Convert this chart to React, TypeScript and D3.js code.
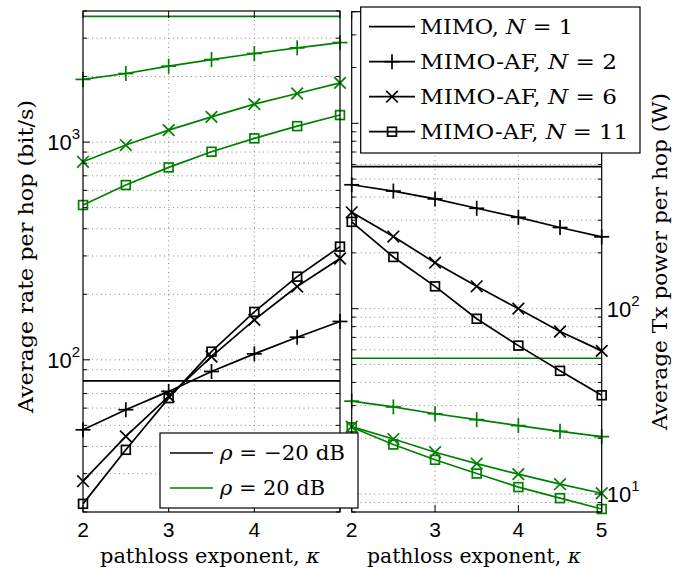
import React from "react";
import * as d3 from "d3";

const kappa = [2, 2.5, 3, 3.5, 4, 4.5, 5];

// Left panel: average rate per hop (bit/s)
const rateLowN1 = 80;
const rateLowN2 = [47.7, 59, 71.6, 88.4, 106.5, 127, 150];
const rateLowN6 = [27.7, 44.5, 67.9, 103.5, 152.6, 217, 292];
const rateLowN11 = [21.8, 38.6, 66.7, 109, 166, 241, 331];
const rateHighN1 = 3780;
const rateHighN2 = [1940, 2065, 2232, 2393, 2552, 2709, 2865];
const rateHighN6 = [812, 969, 1135, 1306, 1494, 1672, 1871];
const rateHighN11 = [514, 635, 765, 903, 1040, 1184, 1331];

// Right panel: average Tx power per hop (W)
const powLowN1 = 584;
const powLowN2 = [466, 431, 391, 348, 311, 274, 244];
const powLowN6 = [331, 245, 177, 132, 100, 75.3, 59.2];
const powLowN11 = [294, 190, 132, 88.2, 63.2, 46.2, 34.1];
const powHighN1 = 54;
const powHighN2 = [31.7, 29.5, 27.1, 25.2, 23.4, 21.8, 20.4];
const powHighN6 = [23.1, 19.8, 16.8, 14.6, 12.8, 11.3, 10.1];
const powHighN11 = [22.9, 18.5, 15.3, 12.9, 10.9, 9.5, 8.3];

const xTicksLeft = [2, 3, 4];
const xTicksRight = [2, 3, 4, 5];
const legendRho = ["−20 dB", "20 dB"];
const legendN = ["1", "2", "6", "11"];

const BLACK = "#000000";
const GREEN = "#008000";
const SANS = "Liberation Sans";
const SERIF = "DejaVu Serif";

type Marker = "none" | "plus" | "x" | "square";

function logTicks(d0: number, d1: number) {
  const out: { v: number; major: boolean }[] = [];
  for (let e = Math.floor(Math.log10(d0)); e <= Math.ceil(Math.log10(d1)); e++) {
    for (let k = 1; k <= 9; k++) {
      const v = k * Math.pow(10, e);
      if (v >= d0 * 0.9999 && v <= d1 * 1.0001) out.push({ v, major: k === 1 });
    }
  }
  return out;
}

function MarkerShape({ kind, x, y, color }: { kind: Marker; x: number; y: number; color: string }) {
  const sw = 1.7;
  if (kind === "plus") {
    const s = 7.5;
    return (
      <g stroke={color} strokeWidth={sw}>
        <line x1={x - s} y1={y} x2={x + s} y2={y} />
        <line x1={x} y1={y - s} x2={x} y2={y + s} />
      </g>
    );
  }
  if (kind === "x") {
    const s = 5.8;
    return (
      <g stroke={color} strokeWidth={sw}>
        <line x1={x - s} y1={y - s} x2={x + s} y2={y + s} />
        <line x1={x - s} y1={y + s} x2={x + s} y2={y - s} />
      </g>
    );
  }
  if (kind === "square") {
    const s = 4.4;
    return <rect x={x - s} y={y - s} width={2 * s} height={2 * s} fill="none" stroke={color} strokeWidth={sw} />;
  }
  return null;
}

function Panel({
  x,
  y,
  series,
  consts,
  xTicks,
  yAxisRight,
  labelMinY,
}: {
  x: d3.ScaleLinear<number, number>;
  y: d3.ScaleLogarithmic<number, number>;
  series: { values: number[]; color: string; marker: Marker }[];
  consts: { value: number; color: string }[];
  xTicks: number[];
  yAxisRight: boolean;
  labelMinY: number;
}) {
  const [x0, x1] = x.range();
  const [yb, yt] = y.range();
  const [d0, d1] = y.domain();
  const allTicks = logTicks(d0, d1);
  const line = d3
    .line<[number, number]>()
    .x((d) => x(d[0]))
    .y((d) => y(d[1]));
  const majors = allTicks.filter((t) => t.major && y(t.v) > labelMinY);
  return (
    <g>
      <rect x={x0} y={yt} width={x1 - x0} height={yb - yt} fill="white" />
      <g stroke="#666" strokeWidth={0.8} strokeDasharray="1 3.5">
        {allTicks
          .filter((t) => Math.abs(y(t.v) - yt) > 1 && Math.abs(y(t.v) - yb) > 1)
          .map((t) => (
            <line key={"gy" + t.v} x1={x0} x2={x1} y1={y(t.v)} y2={y(t.v)} />
          ))}
        {[3, 4].map((t) => (
          <line key={"gx" + t} x1={x(t)} x2={x(t)} y1={yt} y2={yb} />
        ))}
      </g>
      {consts.map((c, i) => (
        <line key={"c" + i} x1={x0} x2={x1} y1={y(c.value)} y2={y(c.value)} stroke={c.color} strokeWidth={1.7} />
      ))}
      {series.map((s, i) => (
        <g key={"s" + i}>
          <path
            d={line(kappa.map((k, j) => [k, s.values[j]] as [number, number])) || ""}
            fill="none"
            stroke={s.color}
            strokeWidth={1.7}
          />
          {kappa.map((k, j) => (
            <MarkerShape key={j} kind={s.marker} x={x(k)} y={y(s.values[j])} color={s.color} />
          ))}
        </g>
      ))}
      <rect x={x0} y={yt} width={x1 - x0} height={yb - yt} fill="none" stroke="black" strokeWidth={1.2} />
      <g stroke="black" strokeWidth={1}>
        {allTicks.map((t) => {
          const len = t.major ? 7 : 4;
          return (
            <g key={"yt" + t.v}>
              <line x1={x0} x2={x0 + len} y1={y(t.v)} y2={y(t.v)} />
              <line x1={x1} x2={x1 - len} y1={y(t.v)} y2={y(t.v)} />
            </g>
          );
        })}
        {[2, 3, 4, 5].map((t) => (
          <g key={"xt" + t}>
            <line x1={x(t)} x2={x(t)} y1={yb} y2={yb - 7} />
            <line x1={x(t)} x2={x(t)} y1={yt} y2={yt + 7} />
          </g>
        ))}
      </g>
      {xTicks.map((t) => (
        <text key={"xl" + t} x={x(t)} y={537} textAnchor="middle" fontFamily={SANS} fontSize={21}>
          {t}
        </text>
      ))}
      {majors.map((t) => {
        const e = Math.round(Math.log10(t.v));
        const yy = y(t.v) + 8;
        return (
          <text
            key={"yl" + t.v}
            x={yAxisRight ? x1 + 5 : x0 - 3}
            y={yy}
            textAnchor={yAxisRight ? "start" : "end"}
            fontFamily={SANS}
            fontSize={22}
          >
            10
            <tspan dy={-11} fontSize={15}>
              {e}
            </tspan>
          </text>
        );
      })}
    </g>
  );
}

export default function App() {
  const xL = d3.scaleLinear().domain([2, 5]).range([83, 340]);
  const yL = d3.scaleLog().domain([20, 4000]).range([512, 11]);
  const xR = d3.scaleLinear().domain([2, 5]).range([351.7, 601.7]);
  const yR = d3.scaleLog().domain([8, 4000]).range([512, 11.7]);

  const leftSeries = [
    { values: rateLowN2, color: BLACK, marker: "plus" as Marker },
    { values: rateLowN6, color: BLACK, marker: "x" as Marker },
    { values: rateLowN11, color: BLACK, marker: "square" as Marker },
    { values: rateHighN2, color: GREEN, marker: "plus" as Marker },
    { values: rateHighN6, color: GREEN, marker: "x" as Marker },
    { values: rateHighN11, color: GREEN, marker: "square" as Marker },
  ];
  const rightSeries = [
    { values: powLowN2, color: BLACK, marker: "plus" as Marker },
    { values: powLowN6, color: BLACK, marker: "x" as Marker },
    { values: powLowN11, color: BLACK, marker: "square" as Marker },
    { values: powHighN2, color: GREEN, marker: "plus" as Marker },
    { values: powHighN6, color: GREEN, marker: "x" as Marker },
    { values: powHighN11, color: GREEN, marker: "square" as Marker },
  ];
  const markersN: Marker[] = ["none", "plus", "x", "square"];
  const nWidths = [153, 197, 197, 208];
  const rhoWidths = [125, 105];

  return (
    <svg width={689} height={570} style={{ position: "absolute", left: 0, top: 0 }}>
      <rect width={689} height={570} fill="white" />
      <Panel
        x={xL}
        y={yL}
        series={leftSeries}
        consts={[
          { value: rateLowN1, color: BLACK },
          { value: rateHighN1, color: GREEN },
        ]}
        xTicks={xTicksLeft}
        yAxisRight={false}
        labelMinY={0}
      />
      <Panel
        x={xR}
        y={yR}
        series={rightSeries}
        consts={[
          { value: powLowN1, color: BLACK },
          { value: powHighN1, color: GREEN },
        ]}
        xTicks={xTicksRight}
        yAxisRight={true}
        labelMinY={165}
      />
      <text x={210} y={563} textAnchor="middle" fontFamily={SERIF} fontSize={20} textLength={220} lengthAdjust="spacingAndGlyphs">
        pathloss exponent, <tspan fontStyle="italic">κ</tspan>
      </text>
      <text x={474} y={563} textAnchor="middle" fontFamily={SERIF} fontSize={20} textLength={214} lengthAdjust="spacingAndGlyphs">
        pathloss exponent, <tspan fontStyle="italic">κ</tspan>
      </text>
      <text
        transform="translate(33,256.5) rotate(-90)"
        textAnchor="middle"
        fontFamily={SERIF}
        fontSize={21}
        textLength={313}
        lengthAdjust="spacingAndGlyphs"
      >
        Average rate per hop (bit/s)
      </text>
      <text
        transform="translate(667,261.5) rotate(-90)"
        textAnchor="middle"
        fontFamily={SERIF}
        fontSize={21}
        textLength={337}
        lengthAdjust="spacingAndGlyphs"
      >
        Average Tx power per hop (W)
      </text>
      <g>
        <rect x={160} y={433} width={198} height={75} fill="white" stroke="black" strokeWidth={1.2} />
        {legendRho.map((lab, i) => {
          const yy = 453 + i * 35;
          return (
            <g key={lab}>
              <line x1={170} x2={213} y1={yy} y2={yy} stroke={i === 0 ? BLACK : GREEN} strokeWidth={1.7} />
              <text
                x={220}
                y={yy + 7}
                fontFamily={SERIF}
                fontSize={21}
                textLength={rhoWidths[i]}
                lengthAdjust="spacingAndGlyphs"
              >
                <tspan fontStyle="italic">ρ</tspan> = {lab}
              </text>
            </g>
          );
        })}
      </g>
      <g>
        <rect x={360.7} y={7} width={279.3} height={146} fill="white" stroke="black" strokeWidth={1.2} />
        {legendN.map((n, i) => {
          const yy = 26.7 + i * 35;
          return (
            <g key={n}>
              <line x1={369} x2={415} y1={yy} y2={yy} stroke={BLACK} strokeWidth={1.7} />
              <MarkerShape kind={markersN[i]} x={392} y={yy} color={BLACK} />
              <text
                x={420}
                y={yy + 7.5}
                fontFamily={SERIF}
                fontSize={21}
                textLength={nWidths[i]}
                lengthAdjust="spacingAndGlyphs"
              >
                {i === 0 ? "MIMO" : "MIMO-AF"}, <tspan fontStyle="italic">N</tspan> = {n}
              </text>
            </g>
          );
        })}
      </g>
    </svg>
  );
}
